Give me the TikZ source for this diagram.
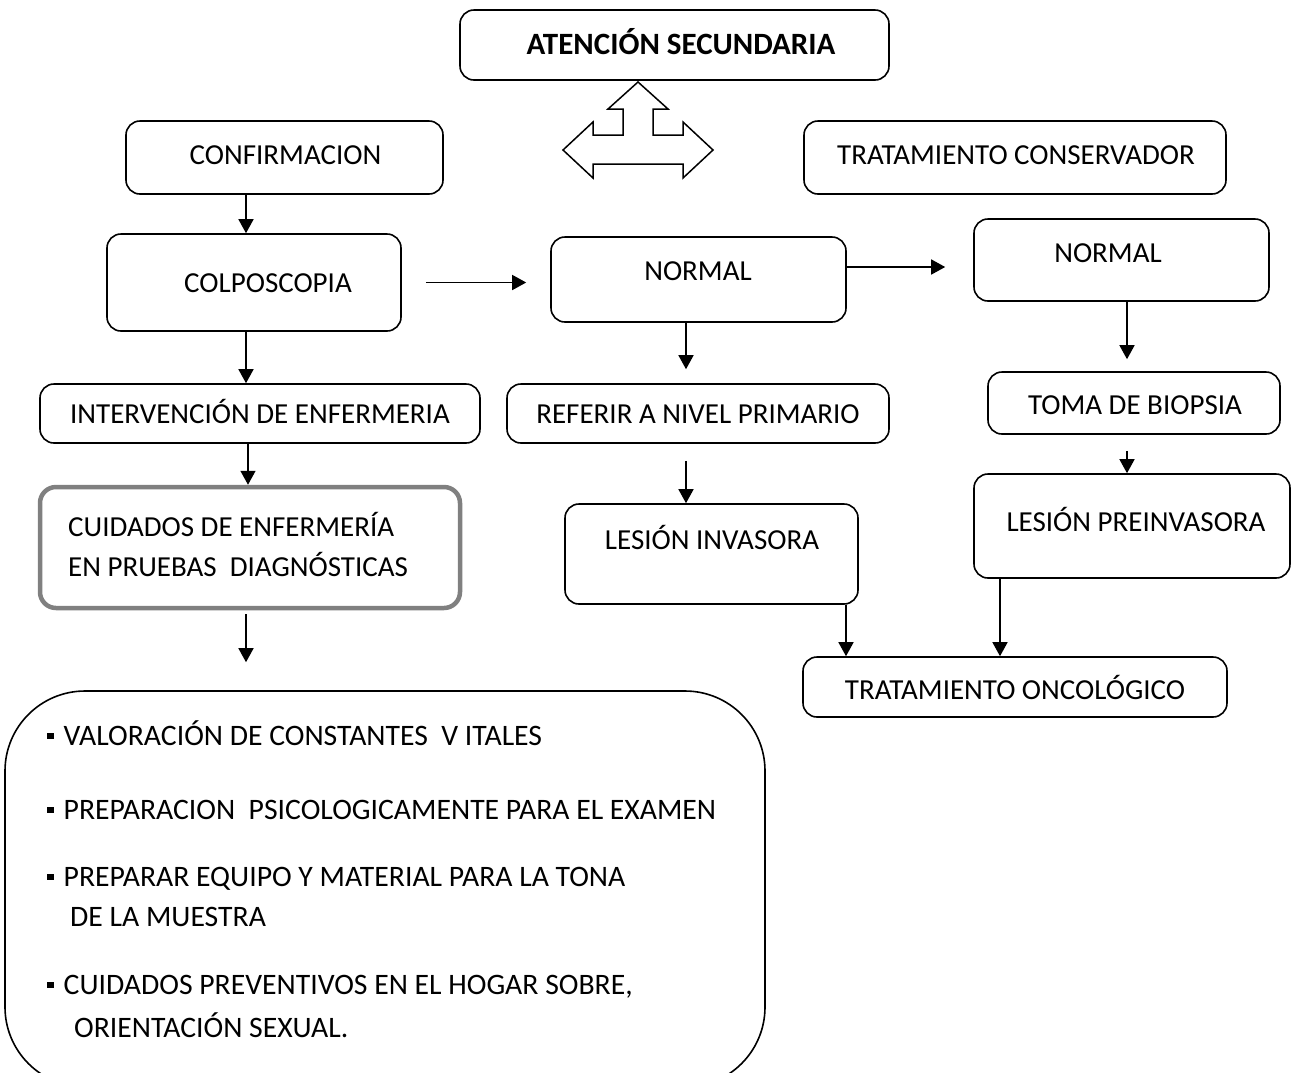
\documentclass[tikz,border=0pt]{standalone}
\usepackage{fontspec}
\setmainfont{Carlito}
\usetikzlibrary{arrows.meta,calc}
\newcommand\bulsq{\rule[6pt]{6.5pt}{6.5pt}\hspace{10pt}}
\begin{document}
\begin{tikzpicture}[x=1pt,y=-1pt,
  box/.style={draw, line width=1.6pt, rounded corners=14pt, inner sep=0pt},
  gbox/.style={draw=black!50, line width=4.5pt, rounded corners=16pt, inner sep=0pt},
  txt/.style={font=\fontsize{29}{36}\selectfont, inner sep=0pt, text height=18.7pt, text depth=0pt},
  btxt/.style={txt, font=\fontsize{29.7}{36}\selectfont, anchor=west},
  arr/.style={-{Triangle[length=14pt,width=15pt]}, line width=1.5pt}]
\useasboundingbox (0,0) rectangle (1293,1072);
\clip (0,0) rectangle (1293,1072);
% boxes
\node[box, minimum width=429pt, minimum height=70pt] (top) at (674.5,45) {};
\node[txt, font=\fontsize{31}{36}\selectfont\bfseries] (topt) at (681,45) {ATENCIÓN SECUNDARIA};
\node[box, minimum width=317pt, minimum height=73pt] (conf) at (284.5,157.5) {};
\node[txt] (conft) at (285.5,155) {CONFIRMACION};
\node[box, minimum width=422pt, minimum height=73pt] (cons) at (1015,157.5) {};
\node[txt] (const) at (1016,155) {TRATAMIENTO CONSERVADOR};
\node[box, minimum width=294pt, minimum height=97pt] (colp) at (254,282.5) {};
\node[txt] (colpt) at (268,283) {COLPOSCOPIA};
\node[box, minimum width=295pt, minimum height=85pt] (norm1) at (698.5,279.5) {};
\node[txt] (norm1t) at (698,271) {NORMAL};
\node[box, minimum width=295pt, minimum height=82pt] (norm2) at (1121.5,260) {};
\node[txt] (norm2t) at (1108,253) {NORMAL};
\node[box, minimum width=440pt, minimum height=59pt] (interv) at (260,413.5) {};
\node[txt] (intervt) at (260,414) {INTERVENCIÓN DE ENFERMERIA};
\node[box, minimum width=382pt, minimum height=59pt] (refer) at (698,413.5) {};
\node[txt] (refert) at (698,414) {REFERIR A NIVEL PRIMARIO};
\node[box, minimum width=292pt, minimum height=62pt] (toma) at (1134,403) {};
\node[txt] (tomat) at (1135,405) {TOMA DE BIOPSIA};
\node[gbox, minimum width=420pt, minimum height=121pt] (cuid) at (250,547.5) {};
\node[txt, anchor=west] (cuidt1) at (68,527) {CUIDADOS DE ENFERMERÍA};
\node[txt, anchor=west] (cuidt2) at (68,567) {EN PRUEBAS\ \ DIAGNÓSTICAS};
\node[box, minimum width=293pt, minimum height=100pt] (lesinv) at (711.5,554) {};
\node[txt] (lesinvt) at (712,540) {LESIÓN INVASORA};
\node[box, minimum width=316pt, minimum height=104pt] (lespre) at (1132,526) {};
\node[txt] (lespret) at (1136,522) {LESIÓN PREINVASORA};
\node[box, minimum width=424pt, minimum height=60pt] (onco) at (1015,687) {};
\node[txt] (oncot) at (1015,690) {TRATAMIENTO ONCOLÓGICO};
% bottom box
\node[box, rounded corners=80pt, minimum width=760pt, minimum height=396pt] (bot) at (385,889) {};
\node[btxt] (b1) at (47,736) {\bulsq VALORACIÓN DE CONSTANTES\ \ V ITALES};
\node[btxt] (b2) at (47,810) {\bulsq PREPARACION\ \ PSICOLOGICAMENTE PARA EL EXAMEN};
\node[btxt] (b3) at (47,877) {\bulsq PREPARAR EQUIPO Y MATERIAL PARA LA TONA};
\node[btxt] (b3b) at (70,917) {DE LA MUESTRA};
\node[btxt] (b4) at (47,985) {\bulsq CUIDADOS PREVENTIVOS EN EL HOGAR SOBRE,};
\node[btxt] (b4b) at (74,1028) {ORIENTACIÓN SEXUAL.};
% triple arrow
\draw[line width=1.5pt, line join=miter] (638,82) -- (668,109) -- (653,109) -- (653,135) -- (683,135) -- (683,122) -- (713,150) -- (683,178) -- (683,164) -- (593,164) -- (593,178) -- (563,150) -- (593,122) -- (593,135) -- (623,135) -- (623,109) -- (608,109) -- cycle;
% connectors
\coordinate (xa) at (246,0);
\coordinate (xb) at (248,0);
\coordinate (xc) at (686,0);
\coordinate (xd) at (1127,0);
\coordinate (xe) at (846,0);
\coordinate (xf) at (1000,0);
\draw[arr] (conf.south -| xa) -- (colp.north -| xa);
\draw[arr] (colp.south -| xa) -- (interv.north -| xa);
\draw[arr] (interv.south -| xb) -- (cuid.north -| xb);
\draw[arr] ([yshift=-4pt]cuid.south -| xa) -- ([yshift=28pt]bot.north -| xa);
\draw[arr] ([xshift=24pt]colp.east) -- ([xshift=-24pt]colp.east -| norm1.west);
\draw[arr] ([yshift=12.5pt]norm1.east) -- ([xshift=-28pt,yshift=12.5pt]norm1.east -| norm2.west);
\draw[arr] (norm1.south -| xc) -- ([yshift=14pt]refer.north -| xc);
\draw[arr] ([yshift=-17pt]refer.south -| xc) -- (lesinv.north -| xc);
\draw[arr] (norm2.south -| xd) -- ([yshift=12pt]toma.north -| xd);
\draw[arr] ([yshift=-16pt]toma.south -| xd) -- (lespre.north -| xd);
\draw[arr] (lesinv.south -| xe) -- (onco.north -| xe);
\draw[arr] (lespre.south -| xf) -- (onco.north -| xf);
\end{tikzpicture}
\end{document}
